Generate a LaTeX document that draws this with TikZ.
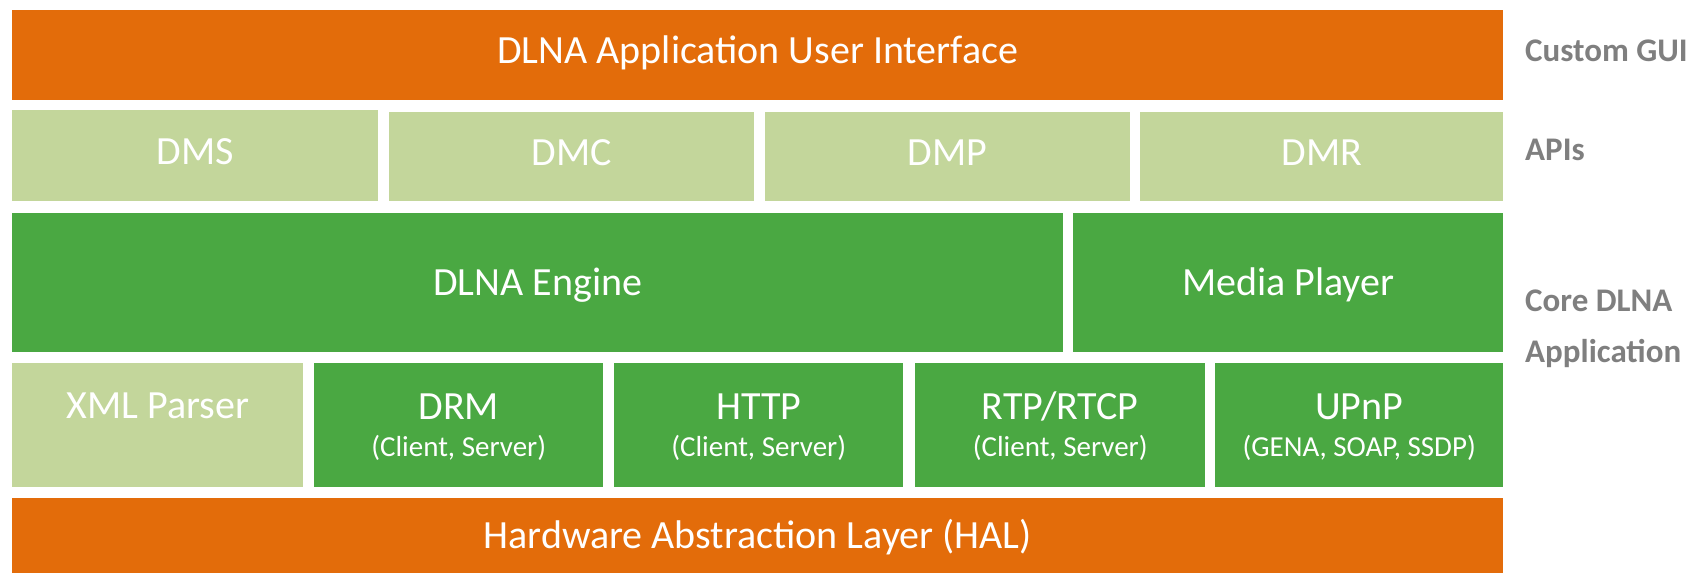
\documentclass[tikz,border=0pt]{standalone}
\usepackage{fontspec}
\setmainfont{Carlito}
\definecolor{orng}{HTML}{E36C0A}
\definecolor{lgreen}{HTML}{C3D69B}
\definecolor{dgreen}{HTML}{4AA842}
\definecolor{lblgray}{HTML}{7F7F7F}
\tikzset{
  blk/.style={draw=none, inner sep=0pt, anchor=north west, text=white,
    font=\fontsize{40}{44}\selectfont, text height=25pt, text depth=0pt},
  upblk/.style={blk, text depth=8pt},
  orangeblk/.style={blk, fill=orng},
  apiblk/.style={upblk, fill=lgreen},
  greenblk/.style={blk, fill=dgreen},
  maintxt/.style={inner sep=0pt, text=white, font=\fontsize{40}{44}\selectfont, text height=25pt, text depth=0pt},
  subtxt/.style={inner sep=0pt, text=white, font=\fontsize{29}{32}\selectfont, text height=18pt, text depth=0pt},
  sidelbl/.style={inner sep=0pt, anchor=west, text=lblgray, font=\bfseries\fontsize{33}{36}\selectfont, text height=21pt, text depth=0pt}
}
\begin{document}
\begin{tikzpicture}[x=1pt,y=-1pt]
\useasboundingbox (0,0) rectangle (1702,575);
% top
\node[orangeblk, upblk, minimum width=1491pt, minimum height=90pt] (gui) at (12,10) {DLNA Application User Interface};
% APIs
\node[apiblk, minimum width=366pt, minimum height=91pt] (dms) at (12,110) {DMS};
\node[apiblk, minimum width=365pt, minimum height=89pt] (dmc) at (389,112) {DMC};
\node[apiblk, minimum width=365pt, minimum height=89pt] (dmp) at (765,112) {DMP};
\node[apiblk, minimum width=363pt, minimum height=89pt] (dmr) at (1140,112) {DMR};
% core
\node[greenblk, minimum width=1051pt, minimum height=139pt] (engine) at (12,213) {DLNA Engine};
\node[greenblk, minimum width=430pt, minimum height=139pt] (player) at (1073,213) {Media Player};
% protocols
\node[blk, fill=lgreen, minimum width=291pt, minimum height=124pt] (xml) at (12,363) {};
\node[blk, fill=dgreen, minimum width=289pt, minimum height=124pt] (drm) at (314,363) {};
\node[blk, fill=dgreen, minimum width=289pt, minimum height=124pt] (http) at (614,363) {};
\node[blk, fill=dgreen, minimum width=290pt, minimum height=124pt] (rtp) at (915,363) {};
\node[blk, fill=dgreen, minimum width=288pt, minimum height=124pt] (upnp) at (1215,363) {};
\node[maintxt] (xmlT) at ([yshift=19pt]xml.center) {XML Parser};
\node[maintxt] (drmT) at ([yshift=18pt]drm.center) {DRM};
\node[subtxt] (drmS) at ([yshift=-22pt]drm.center) {(Client, Server)};
\node[maintxt] (httpT) at ([yshift=18pt]http.center) {HTTP};
\node[subtxt] (httpS) at ([yshift=-22pt]http.center) {(Client, Server)};
\node[maintxt] (rtpT) at ([yshift=18pt]rtp.center) {RTP/RTCP};
\node[subtxt] (rtpS) at ([yshift=-22pt]rtp.center) {(Client, Server)};
\node[maintxt] (upnpT) at ([yshift=18pt]upnp.center) {UPnP};
\node[subtxt] (upnpS) at ([yshift=-22pt]upnp.center) {(GENA, SOAP, SSDP)};
% HAL
\node[orangeblk, minimum width=1491pt, minimum height=75pt] (hal) at (12,498) {Hardware Abstraction Layer (HAL)};
% side labels
\node[sidelbl] (lgui) at (1525,51) {Custom GUI};
\node[sidelbl] (lapi) at (1525,150) {APIs};
\node[sidelbl] (lcore1) at (1525,301) {Core DLNA};
\node[sidelbl] (lcore2) at (1525,352) {Application};
\end{tikzpicture}
\end{document}
